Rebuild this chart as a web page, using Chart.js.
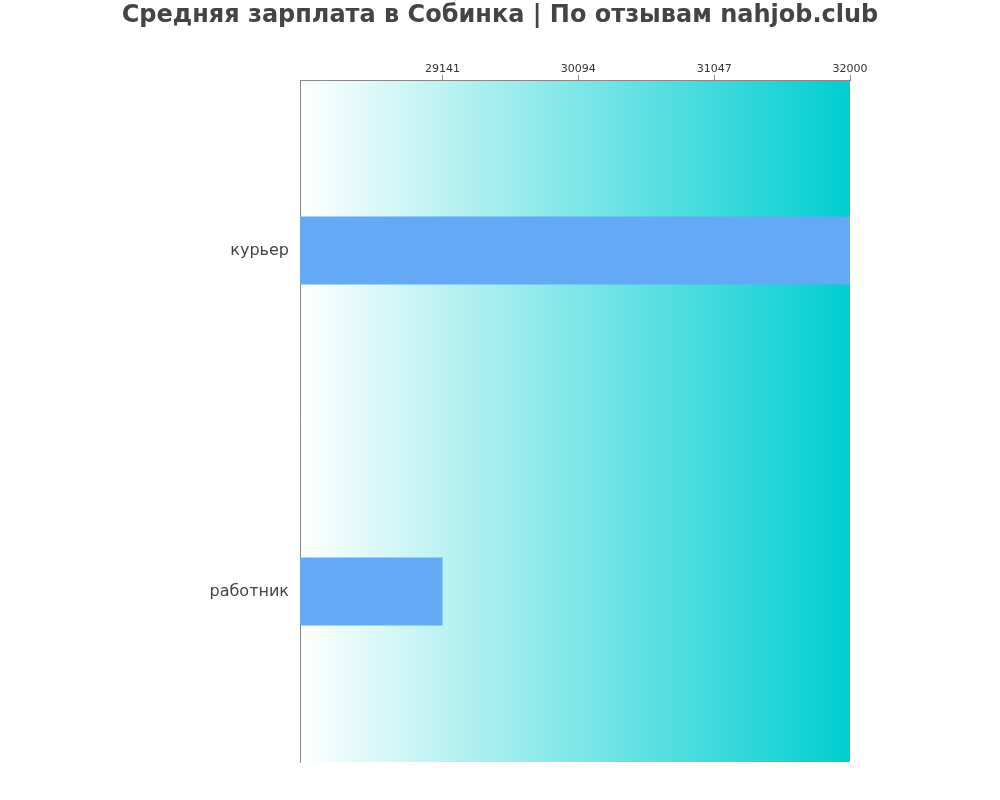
<!DOCTYPE html>
<html>
<head>
<meta charset="utf-8">
<script src="https://cdn.jsdelivr.net/npm/chart.js@4"></script>
<style>
html,body{margin:0;padding:0;background:#fff;}
#wrap{width:1000px;height:800px;}
</style>
</head>
<body>
<div id="wrap"><canvas id="c" width="1000" height="800"></canvas></div>
<script>
const categories = ["курьер", "работник"];
const salaries = [32000, 29141];
const tickValues = [29141, 30094, 31047, 32000];
const axisMin = 28141;
const axisMax = 32000;
const titleText = "Средняя зарплата в Собинка | По отзывам nahjob.club";

const bgPlugin = {
  id: 'bgGradient',
  beforeDraw(chart) {
    const {ctx, chartArea: a} = chart;
    const g = ctx.createLinearGradient(a.left, 0, a.right, 0);
    g.addColorStop(0, '#ffffff');
    g.addColorStop(1, '#00ced1');
    ctx.save();
    ctx.fillStyle = g;
    ctx.fillRect(a.left, a.top, a.right - a.left, a.bottom - a.top);
    ctx.restore();
  }
};

const titlePlugin = {
  id: 'centerTitle',
  afterDraw(chart) {
    const ctx = chart.ctx;
    ctx.save();
    ctx.font = 'bold 24px "DejaVu Sans"';
    ctx.fillStyle = '#444444';
    ctx.textAlign = 'center';
    ctx.textBaseline = 'middle';
    ctx.fillText(titleText, chart.width / 2, 16);
    ctx.restore();
  }
};

new Chart(document.getElementById('c'), {
  type: 'bar',
  data: {
    labels: categories,
    datasets: [{
      data: salaries,
      backgroundColor: '#63a9f5',
      borderWidth: 0,
      barPercentage: 0.2,
      categoryPercentage: 1.0
    }]
  },
  options: {
    indexAxis: 'y',
    responsive: false,
    animation: false,
    devicePixelRatio: 1,
    layout: { padding: { top: 31, left: 0, right: 150, bottom: 38 } },
    plugins: {
      legend: { display: false },
      tooltip: { enabled: false },
      title: { display: false }
    },
    scales: {
      x: {
        position: 'top',
        min: axisMin,
        max: axisMax,
        afterBuildTicks(scale) { scale.ticks = tickValues.map(v => ({ value: v })); },
        afterFit(scale) { scale.height = 49; },
        ticks: {
          color: '#333333',
          font: { family: 'DejaVu Sans', size: 11 },
          padding: -1,
          autoSkip: false,
          maxRotation: 0,
          callback: v => String(v)
        },
        grid: { drawOnChartArea: false, drawTicks: true, tickLength: 5, color: '#888888' },
        border: { display: true, color: '#888888', width: 1 }
      },
      y: {
        afterFit(scale) { scale.width = 300; },
        ticks: {
          color: '#444444',
          font: { family: 'DejaVu Sans', size: 16 },
          padding: 11
        },
        grid: { display: true, drawOnChartArea: false, drawTicks: false },
        border: { display: true, color: '#888888', width: 1 }
      }
    }
  },
  plugins: [bgPlugin, titlePlugin]
});
</script>
</body>
</html>
